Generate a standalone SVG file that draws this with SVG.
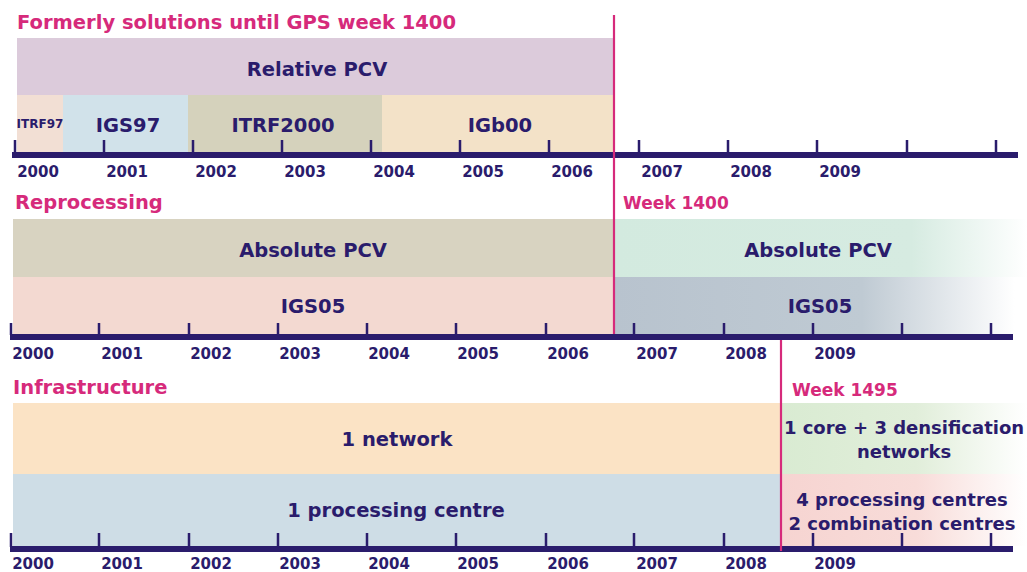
<svg xmlns="http://www.w3.org/2000/svg" width="1027" height="572" viewBox="0 0 1027 572">
<style>
text{font-family:"DejaVu Sans","Liberation Sans",sans-serif;font-weight:bold;fill:#2a1c6c}
.title{font-size:19.5px;fill:#d62a7b}
.week{font-size:17px;fill:#d62a7b}
.lbl{font-size:19.5px;text-anchor:middle}
.sm{font-size:18px;text-anchor:middle}
.yr{font-size:15px;text-anchor:middle}
.axis{stroke:#2a1c6c;stroke-width:6;fill:none}
.tick{stroke:#2a1c6c;stroke-width:2.5;fill:none}
.mark{stroke:#d62a7b;stroke-width:2.2;fill:none}
</style>
<defs>
<linearGradient id="gGreen" x1="614" x2="1027" y1="0" y2="0" gradientUnits="userSpaceOnUse">
<stop offset="0" stop-color="#d3eadf"/><stop offset="0.72" stop-color="#d6ebe1"/><stop offset="1" stop-color="#ffffff"/>
</linearGradient>
<linearGradient id="gBlue" x1="614" x2="1027" y1="0" y2="0" gradientUnits="userSpaceOnUse">
<stop offset="0" stop-color="#b8c3ce"/><stop offset="0.6" stop-color="#bfcad3"/><stop offset="0.97" stop-color="#ffffff"/>
</linearGradient>
<linearGradient id="gGreen2" x1="781" x2="1027" y1="0" y2="0" gradientUnits="userSpaceOnUse">
<stop offset="0" stop-color="#d9ebd2"/><stop offset="0.55" stop-color="#e1eeda"/><stop offset="1" stop-color="#ffffff"/>
</linearGradient>
<linearGradient id="gPink" x1="781" x2="1027" y1="0" y2="0" gradientUnits="userSpaceOnUse">
<stop offset="0" stop-color="#f6d4d1"/><stop offset="0.55" stop-color="#f8dcd9"/><stop offset="1" stop-color="#ffffff"/>
</linearGradient>
</defs>

<!-- Section 1 -->
<text class="title" x="17" y="29">Formerly solutions until GPS week 1400</text>
<g id="relative-pcv"><rect x="17" y="38" width="597" height="57" fill="#dccbdb"/><text class="lbl" x="317" y="76">Relative PCV</text></g>
<g id="itrf97"><rect x="17" y="95" width="46" height="57" fill="#f2dfd4"/><text x="40" y="128" font-size="12" text-anchor="middle">ITRF97</text></g>
<g id="igs97"><rect x="63" y="95" width="125" height="57" fill="#d1e2ea"/><text class="lbl" x="128" y="132">IGS97</text></g>
<g id="itrf2000"><rect x="188" y="95" width="194" height="57" fill="#d5d2bc"/><text class="lbl" x="283" y="132">ITRF2000</text></g>
<g id="igb00"><rect x="382" y="95" width="232" height="57" fill="#f3e2c8"/><text class="lbl" x="500" y="132">IGb00</text></g>

<!-- Section 2 -->
<text class="title" x="15" y="209">Reprocessing</text>
<g id="abs-pcv-old"><rect x="13" y="219" width="601" height="58" fill="#d8d3c1"/><text class="lbl" x="313" y="257">Absolute PCV</text></g>
<g id="igs05-old"><rect x="13" y="277" width="601" height="57" fill="#f3d9d1"/><text class="lbl" x="313" y="313">IGS05</text></g>
<g id="abs-pcv-new"><rect x="614" y="219" width="413" height="58" fill="url(#gGreen)"/><text class="lbl" x="818" y="257">Absolute PCV</text></g>
<g id="igs05-new"><rect x="614" y="277" width="413" height="57" fill="url(#gBlue)"/><text class="lbl" x="820" y="313">IGS05</text></g>
<text class="week" x="623" y="209">Week 1400</text>

<!-- Section 3 -->
<text class="title" x="13" y="394">Infrastructure</text>
<g id="one-network"><rect x="13" y="403" width="768" height="71" fill="#fbe3c5"/><text class="lbl" x="397" y="446">1 network</text></g>
<g id="one-pc"><rect x="13" y="474" width="768" height="72" fill="#cedde6"/><text class="lbl" x="396" y="517">1 processing centre</text></g>
<g id="core-dens"><rect x="781" y="403" width="246" height="71" fill="url(#gGreen2)"/><text class="sm" x="904" y="434">1 core + 3 densification</text><text class="sm" x="904" y="458">networks</text></g>
<g id="multi-pc"><rect x="781" y="474" width="246" height="72" fill="url(#gPink)"/><text class="sm" x="902" y="506">4 processing centres</text><text class="sm" x="902" y="530">2 combination centres</text></g>
<text class="week" x="792" y="396">Week 1495</text>

<!-- Axes -->
<g id="axes">
<line class="axis" x1="12" y1="155" x2="1018" y2="155"/>
<path class="tick" d="M15 140V153M104 140V153M193 140V153M282 140V153M371 140V153M460 140V153M549 140V153M639 140V153M728 140V153M817 140V153M907 140V153M996 140V153"/>
<line class="axis" x1="10" y1="337" x2="1013" y2="337"/>
<path class="tick" d="M11 323V335M99 323V335M189 323V335M278 323V335M367 323V335M456 323V335M546 323V335M634 323V335M724 323V335M813 323V335M902 323V335M991 323V335"/>
<line class="axis" x1="10" y1="549" x2="1013" y2="549"/>
<path class="tick" d="M11 533V547M99 533V547M189 533V547M278 533V547M367 533V547M456 533V547M546 533V547M634 533V547M724 533V547M813 533V547M902 533V547M991 533V547"/>
</g>
<g id="years">
<text class="yr" x="38" y="177">2000</text><text class="yr" x="127" y="177">2001</text><text class="yr" x="216" y="177">2002</text><text class="yr" x="305" y="177">2003</text><text class="yr" x="394" y="177">2004</text><text class="yr" x="483" y="177">2005</text><text class="yr" x="572" y="177">2006</text><text class="yr" x="662" y="177">2007</text><text class="yr" x="751" y="177">2008</text><text class="yr" x="840" y="177">2009</text>
<text class="yr" x="33" y="359">2000</text><text class="yr" x="122" y="359">2001</text><text class="yr" x="211" y="359">2002</text><text class="yr" x="300" y="359">2003</text><text class="yr" x="389" y="359">2004</text><text class="yr" x="478" y="359">2005</text><text class="yr" x="568" y="359">2006</text><text class="yr" x="657" y="359">2007</text><text class="yr" x="746" y="359">2008</text><text class="yr" x="835" y="359">2009</text>
<text class="yr" x="33" y="569">2000</text><text class="yr" x="122" y="569">2001</text><text class="yr" x="211" y="569">2002</text><text class="yr" x="300" y="569">2003</text><text class="yr" x="389" y="569">2004</text><text class="yr" x="478" y="569">2005</text><text class="yr" x="568" y="569">2006</text><text class="yr" x="657" y="569">2007</text><text class="yr" x="746" y="569">2008</text><text class="yr" x="835" y="569">2009</text>
</g>

<!-- Week markers -->
<g id="connectors">
<line class="mark" x1="614" y1="15" x2="614" y2="334"/>
<line class="mark" x1="781" y1="340" x2="781" y2="551"/>
</g>
</svg>
